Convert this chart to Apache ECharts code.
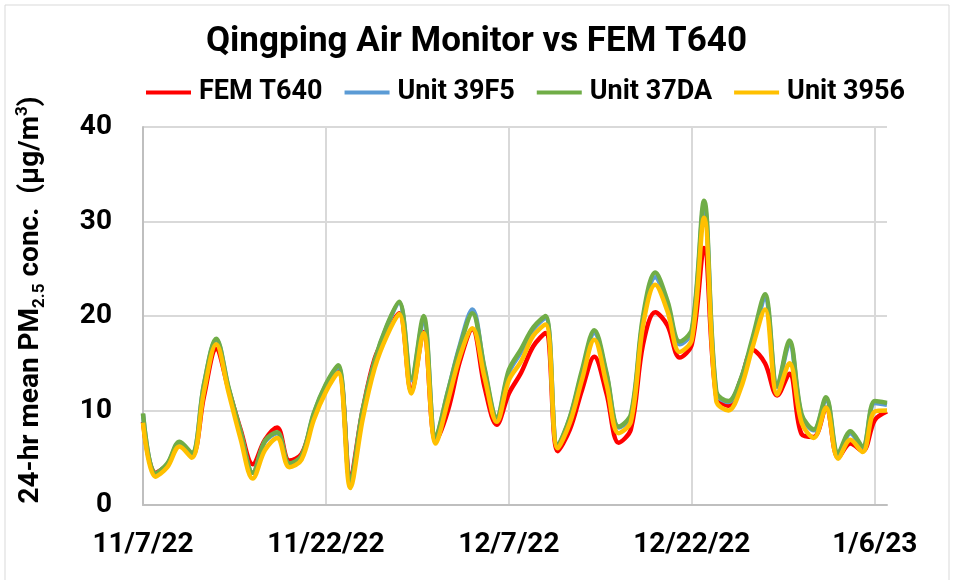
<!DOCTYPE html>
<html lang="en">
<head>
<meta charset="UTF-8">
<title>Qingping Air Monitor vs FEM T640</title>
<script src="https://cdn.jsdelivr.net/npm/echarts@6/dist/echarts.min.js"></script>
<style>
  html, body { margin: 0; padding: 0; background: #fff; }
  #main { width: 953px; height: 580px; }
</style>
</head>
<body>
<div id="main"></div>
<script>
  // daily 24-hr means, 11/7/22 .. 1/7/23
  var days = [];
  for (var i = 0; i < 62; i++) {
    var d = new Date(2022, 10, 7 + i);
    days.push((d.getMonth() + 1) + '/' + d.getDate() + '/' + String(d.getFullYear()).slice(2));
  }

  var fem = [8.8, 3.4, 4.3, 6.4, 5.2, 11.5, 16.5, 12.3, 8.0, 4.3,
    6.9, 8.2, 4.7, 5.4, 9.3, 12.3, 14.2, 3.2, 10.0, 15.5,
    18.2, 20.3, 12.0, 18.3, 6.8, 10.0, 15.3, 18.6, 12.5, 8.5,
    11.8, 14.0, 16.8, 18.2, 5.7, 8.0, 12.2, 15.7, 11.8, 6.6,
    8.0, 17.0, 20.4, 19.0, 15.6, 17.0, 27.2, 11.5, 10.5, 13.2,
    16.4, 15.0, 11.6, 13.9, 7.5, 7.2, 10.3, 5.0, 6.5, 5.7,
    9.0, 9.9];
  var unit39F5 = [9.6, 3.3, 4.3, 6.6, 5.4, 12.7, 17.5, 12.4, 7.7, 3.4,
    6.7, 7.6, 4.3, 5.1, 9.6, 12.7, 14.6, 2.5, 9.9, 15.2,
    18.9, 21.4, 13.2, 19.6, 7.1, 12.0, 17.0, 20.7, 14.3, 9.2,
    14.0, 16.2, 18.6, 19.8, 6.2, 9.2, 14.0, 18.2, 13.8, 8.2,
    9.3, 19.6, 24.1, 21.2, 17.0, 18.3, 31.6, 11.8, 10.9, 13.2,
    17.5, 21.8, 12.5, 17.1, 9.4, 7.9, 11.2, 5.3, 7.6, 6.1,
    10.8, 10.6];
  var unit37DA = [9.7, 3.3, 4.4, 6.7, 5.5, 12.8, 17.6, 12.5, 7.8, 3.4,
    6.8, 7.7, 4.4, 5.2, 9.7, 12.8, 14.8, 2.6, 10.0, 15.3,
    19.0, 21.5, 13.4, 20.0, 7.2, 12.0, 16.8, 20.3, 14.5, 9.3,
    14.3, 16.5, 18.8, 20.0, 6.3, 9.3, 14.3, 18.5, 14.0, 8.3,
    9.6, 20.0, 24.6, 21.6, 17.3, 18.6, 32.2, 12.0, 11.0, 13.3,
    17.8, 22.3, 12.6, 17.4, 9.6, 8.0, 11.4, 5.5, 7.8, 6.2,
    11.0, 10.8];
  var unit3956 = [8.7, 3.0, 4.0, 6.2, 5.0, 12.0, 17.0, 12.0, 7.0, 2.8,
    5.8, 7.1, 4.0, 4.8, 9.0, 12.0, 14.0, 1.8, 9.0, 14.5,
    17.9, 20.2, 11.8, 18.2, 6.5, 11.0, 15.8, 18.7, 13.5, 8.8,
    13.2, 15.2, 17.9, 19.1, 6.0, 8.7, 13.3, 17.5, 12.8, 7.6,
    8.8, 19.0, 23.3, 20.5, 16.2, 17.5, 30.4, 11.0, 10.0, 12.3,
    16.8, 20.7, 11.7, 15.0, 8.7, 7.1, 10.3, 4.9, 6.9, 5.6,
    9.9, 10.0];

  var seriesNames = ['FEM T640', 'Unit 39F5', 'Unit 37DA', 'Unit 3956'];
  var seriesColors = ['#FF0000', '#5B9BD5', '#70AD47', '#FFC000'];
  var seriesData = [fem, unit39F5, unit37DA, unit3956];

  var FONT = 'Roboto';

  var myChart = echarts.init(document.getElementById('main'));
  var option = {
    animation: false,
    textStyle: { fontFamily: FONT, color: '#000' },
    title: {
      text: 'Qingping Air Monitor vs FEM T640',
      left: 'center',
      top: 20,
      textStyle: { fontFamily: FONT, fontSize: 35, fontWeight: 'bold', color: '#000' }
    },
    legend: {
      data: seriesNames,
      left: 141,
      top: 74,
      icon: 'rect',
      itemWidth: 45,
      itemHeight: 4,
      itemGap: 22,
      textStyle: { fontFamily: FONT, fontSize: 27, fontWeight: 'bold', color: '#000', padding: [0, 0, 0, 3] }
    },
    graphic: [{
      type: 'rect',
      shape: { x: 5, y: 5, width: 944, height: 600 },
      style: { fill: 'none', stroke: '#d9d9d9', lineWidth: 1 },
      silent: true
    }],
    grid: { left: 143, right: 66, top: 127, bottom: 75 },
    xAxis: {
      type: 'category',
      data: days,
      boundaryGap: false,
      axisLine: { lineStyle: { color: '#bfbfbf', width: 2 } },
      axisTick: { show: false },
      axisLabel: {
        interval: 14,
        margin: 26,
        fontFamily: FONT,
        fontSize: 28,
        fontWeight: 'bold',
        color: '#000'
      },
      splitLine: { show: true, interval: 14, lineStyle: { color: '#d9d9d9', width: 2 } }
    },
    yAxis: {
      type: 'value',
      min: 0,
      max: 40,
      interval: 10,
      axisLine: { show: true, lineStyle: { color: '#bfbfbf', width: 2 } },
      axisTick: { show: false },
      axisLabel: { margin: 31, fontFamily: FONT, fontSize: 28, fontWeight: 'bold', color: '#000' },
      splitLine: { lineStyle: { color: '#d9d9d9', width: 2 } },
      name: '{t|24-hr mean PM}{sub|2.5}{t| conc.  (µg/m}{sup|3}{t|)}',
      nameLocation: 'middle',
      nameRotate: 90,
      nameGap: 95,
      nameTextStyle: {
        padding: [0, 0, 0, 32],
        rich: {
          t: { fontFamily: FONT, fontSize: 28, fontWeight: 'bold', color: '#000', lineHeight: 34 },
          sub: { fontFamily: FONT, fontSize: 17, fontWeight: 'bold', color: '#000', lineHeight: 17, verticalAlign: 'bottom' },
          sup: { fontFamily: FONT, fontSize: 17, fontWeight: 'bold', color: '#000', lineHeight: 17, verticalAlign: 'top' }
        }
      }
    },
    series: seriesNames.map(function (name, k) {
      return {
        name: name,
        type: 'line',
        data: seriesData[k],
        smooth: 0.35,
        symbol: 'none',
        color: seriesColors[k],
        lineStyle: { width: 4.5, color: seriesColors[k] }
      };
    })
  };
  myChart.setOption(option);

  window.addEventListener('resize', function () {
    myChart.resize();
  });
</script>
</body>
</html>
